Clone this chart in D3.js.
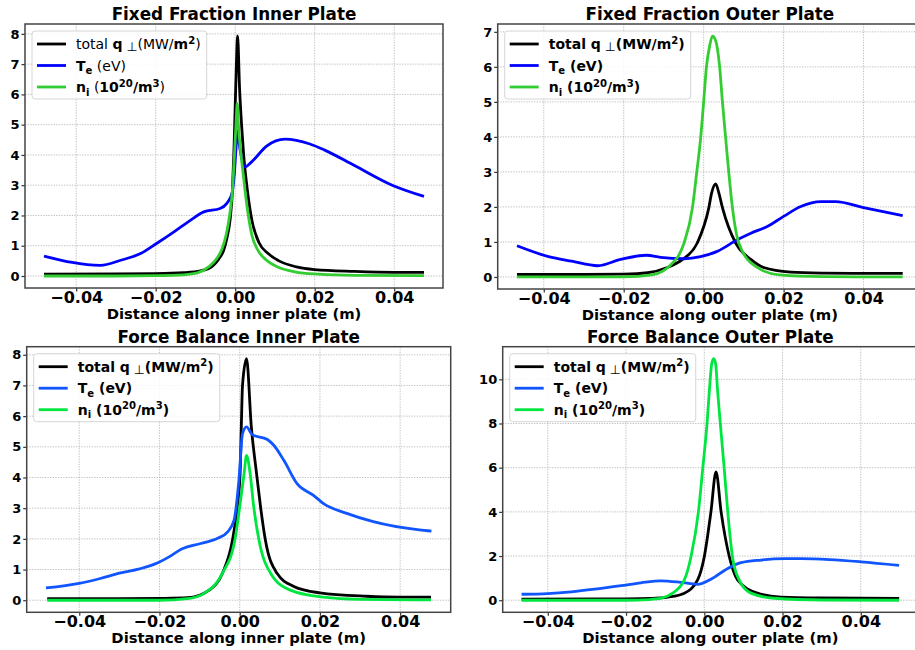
<!DOCTYPE html>
<html><head><meta charset="utf-8">
<script src="https://cdn.jsdelivr.net/npm/d3@7"></script>
<style>
body{margin:0;background:#fff}
svg{display:block}
text{font-family:"DejaVu Sans",sans-serif;white-space:pre}
</style>
</head><body>
<svg id="c" width="915" height="650"></svg>
<script>
// ---------- tick labels ----------
const xTicks = [-0.04, -0.02, 0, 0.02, 0.04];
const yTicksFFInner = [0,1,2,3,4,5,6,7,8];
const yTicksFFOuter = [0,1,2,3,4,5,6,7];
const yTicksFBInner = [0,1,2,3,4,5,6,7,8];
const yTicksFBOuter = [0,2,4,6,8,10];

// ---------- Fixed Fraction Inner Plate ----------
const ffInnerQ = [[-0.0481,0.06],[-0.03,0.07],[-0.02,0.08],[-0.013,0.11],[-0.0087,0.17],[-0.0058,0.32],[-0.0042,0.55],[-0.0029,0.85],[-0.002,1.3],[-0.00125,1.9],[-0.0007,2.8],[-0.0003,4.2],[0.0,5.6],[0.0003,7.0],[0.0006,7.93],[0.0011,6.2],[0.0016,5.0],[0.0021,4.05],[0.003,2.9],[0.0042,1.84],[0.006,1.1],[0.0083,0.74],[0.011,0.5],[0.0154,0.3],[0.02,0.21],[0.03,0.15],[0.04,0.12],[0.0475,0.12]];
const ffInnerTe = [[-0.0481,0.66],[-0.0339,0.35],[-0.0288,0.52],[-0.0238,0.74],[-0.0196,1.09],[-0.0154,1.46],[-0.0113,1.84],[-0.0079,2.12],[-0.0038,2.23],[-0.0021,2.4],[-0.0008,2.73],[-0.0002,3.4],[0.0002,4.2],[0.0005,4.8],[0.0012,4.2],[0.0025,3.61],[0.0042,3.78],[0.0079,4.29],[0.0125,4.52],[0.0188,4.36],[0.0225,4.16],[0.03,3.65],[0.0395,3.0],[0.0475,2.63]];
const ffInnerNi = [[-0.0481,0.0],[-0.03,0.0],[-0.02,0.01],[-0.013,0.04],[-0.0095,0.1],[-0.0067,0.3],[-0.0045,0.6],[-0.0033,0.9],[-0.0022,1.4],[-0.0013,2.1],[-0.0006,3.0],[-0.0002,4.0],[0.0002,5.0],[0.0005,5.7],[0.0008,5.0],[0.0013,4.2],[0.0019,3.5],[0.0025,2.8],[0.0033,2.0],[0.0042,1.35],[0.0055,0.9],[0.0079,0.52],[0.011,0.28],[0.015,0.14],[0.021,0.06],[0.03,0.02],[0.0475,0.01]];

// ---------- Fixed Fraction Outer Plate ----------
const ffOuterQ = [[-0.0467,0.07],[-0.03,0.07],[-0.02,0.08],[-0.014,0.12],[-0.0091,0.27],[-0.0053,0.5],[-0.0016,0.97],[0.0013,1.98],[0.002,2.4],[0.003,2.66],[0.0038,2.4],[0.0047,1.98],[0.008,0.97],[0.0118,0.5],[0.015,0.27],[0.0218,0.14],[0.03,0.11],[0.04,0.1],[0.0498,0.1]];
const ffOuterTe = [[-0.0467,0.89],[-0.0388,0.58],[-0.033,0.45],[-0.0265,0.32],[-0.0208,0.5],[-0.0143,0.62],[-0.0108,0.56],[-0.0049,0.52],[-0.00075,0.58],[0.0034,0.73],[0.0084,1.06],[0.0118,1.25],[0.0159,1.44],[0.02,1.73],[0.0243,2.01],[0.0293,2.15],[0.033,2.15],[0.04,1.98],[0.0498,1.75]];
const ffOuterNi = [[-0.0467,0.0],[-0.02,0.0],[-0.013,0.06],[-0.0087,0.3],[-0.0049,0.97],[-0.0028,1.98],[-0.00175,2.97],[-0.00075,3.97],[0.0,5.0],[0.0007,6.0],[0.0015,6.6],[0.0022,6.88],[0.003,6.75],[0.004,6.0],[0.0047,5.0],[0.0055,3.97],[0.0063,2.97],[0.0072,1.98],[0.0088,0.97],[0.013,0.3],[0.019,0.06],[0.03,0.01],[0.0498,0.0]];

// ---------- Force Balance Inner Plate ----------
const fbInnerQ = [[-0.048,0.05],[-0.03,0.05],[-0.02,0.06],[-0.013,0.08],[-0.0076,0.33],[-0.0043,0.88],[-0.0018,1.96],[-0.0006,3.04],[0.0001,4.13],[0.0004,5.65],[0.0007,7.0],[0.0017,7.87],[0.0029,5.65],[0.0042,4.13],[0.0052,3.04],[0.0064,1.96],[0.0093,0.88],[0.0135,0.45],[0.02,0.24],[0.0316,0.13],[0.04,0.1],[0.0477,0.1]];
const fbInnerTe = [[-0.0483,0.4],[-0.04,0.55],[-0.035,0.7],[-0.03,0.88],[-0.025,1.02],[-0.0204,1.22],[-0.0175,1.42],[-0.0146,1.66],[-0.0097,1.85],[-0.0055,2.02],[-0.003,2.23],[-0.0014,2.61],[-0.0002,3.91],[0.0007,5.43],[0.0017,5.65],[0.0031,5.4],[0.0069,5.24],[0.0085,5.05],[0.011,4.56],[0.0143,3.8],[0.0184,3.42],[0.0209,3.15],[0.0267,2.83],[0.0333,2.56],[0.0448,2.29],[0.0478,2.25]];
const fbInnerNi = [[-0.048,0.0],[-0.02,0.0],[-0.013,0.05],[-0.0092,0.2],[-0.0043,0.88],[-0.0012,1.96],[0.0,3.04],[0.0011,4.13],[0.0017,4.72],[0.0026,4.13],[0.0035,3.04],[0.0048,1.96],[0.0077,0.88],[0.0126,0.33],[0.0209,0.1],[0.03,0.03],[0.0477,0.01]];

// ---------- Force Balance Outer Plate ----------
const fbOuterQ = [[-0.0467,0.05],[-0.02,0.06],[-0.0135,0.08],[-0.0093,0.14],[-0.0051,0.32],[-0.0017,0.92],[0.0,1.97],[0.0017,4.0],[0.003,5.81],[0.0043,4.0],[0.0064,1.97],[0.0085,0.92],[0.0136,0.32],[0.0196,0.14],[0.03,0.1],[0.0498,0.08]];
const fbOuterTe = [[-0.0467,0.27],[-0.04,0.3],[-0.034,0.38],[-0.028,0.5],[-0.0213,0.66],[-0.0162,0.79],[-0.0111,0.88],[-0.006,0.81],[-0.0017,0.72],[0.0017,0.95],[0.006,1.44],[0.0094,1.7],[0.0145,1.82],[0.0204,1.88],[0.0247,1.88],[0.032,1.84],[0.04,1.74],[0.0498,1.58]];
const fbOuterNi = [[-0.0467,0.0],[-0.02,0.0],[-0.014,0.03],[-0.011,0.09],[-0.0081,0.32],[-0.0051,0.92],[-0.0034,1.97],[-0.0015,4.0],[-0.0004,5.96],[0.0007,7.99],[0.0013,9.49],[0.0019,10.7],[0.0024,10.93],[0.0029,10.7],[0.0034,9.49],[0.0041,7.99],[0.0051,5.96],[0.006,4.0],[0.0072,1.97],[0.0089,0.92],[0.0119,0.32],[0.0179,0.09],[0.03,0.01],[0.0498,0.0]];

// ---------- legend labels ----------
const labelsFF = [
  [{t:"total "},{t:"q",b:1},{t:" \u22A5",s:"perp"},{t:"(MW/"},{t:"m",b:1},{t:"2",b:1,s:"sup"},{t:")"}],
  [{t:"T",b:1},{t:"e",b:1,s:"sub"},{t:" (eV)"}],
  [{t:"n",b:1},{t:"i",b:1,s:"sub"},{t:" ("},{t:"10",b:1},{t:"20",b:1,s:"sup"},{t:"/m",b:1},{t:"3",b:1,s:"sup"},{t:")"}]
];
const labelsBold = [
  [{t:"total ",b:1},{t:"q",b:1},{t:" \u22A5",s:"perp"},{t:"(MW/",b:1},{t:"m",b:1},{t:"2",b:1,s:"sup"},{t:")",b:1}],
  [{t:"T",b:1},{t:"e",b:1,s:"sub"},{t:" (eV)",b:1}],
  [{t:"n",b:1},{t:"i",b:1,s:"sub"},{t:" (",b:1},{t:"10",b:1},{t:"20",b:1,s:"sup"},{t:"/m",b:1},{t:"3",b:1,s:"sup"},{t:")",b:1}]
];

const panels = [
  {title:"Fixed Fraction Inner Plate", xlabel:"Distance along inner plate (m)",
   series:[ffInnerQ, ffInnerTe, ffInnerNi], colors:["#000000","#0000ff","#33cc33"], yTicks:yTicksFFInner,
   labels:labelsFF, rect:{x0:25, y0:24, x1:443, y1:288}},
  {title:"Fixed Fraction Outer Plate", xlabel:"Distance along outer plate (m)",
   series:[ffOuterQ, ffOuterTe, ffOuterNi], colors:["#000000","#0000ff","#33cc33"], yTicks:yTicksFFOuter,
   labels:labelsBold, rect:{x0:497.7, y0:24, x1:922, y1:289}},
  {title:"Force Balance Inner Plate", xlabel:"Distance along inner plate (m)",
   series:[fbInnerQ, fbInnerTe, fbInnerNi], colors:["#000000","#1155ff","#00e640"], yTicks:yTicksFBInner,
   labels:labelsBold, rect:{x0:26.7, y0:346.7, x1:450.7, y1:612.3}},
  {title:"Force Balance Outer Plate", xlabel:"Distance along outer plate (m)",
   series:[fbOuterQ, fbOuterTe, fbOuterNi], colors:["#000000","#1155ff","#00e640"], yTicks:yTicksFBOuter,
   labels:labelsBold, rect:{x0:502.7, y0:346.7, x1:918, y1:612.3}}
];

const svg = d3.select("#c");
const fmt = d => (d < 0 ? "\u2212" : "") + Math.abs(d).toFixed(2);

function rich(textSel, segs, fs){
  let cur = 0;
  segs.forEach(s => {
    const off = s.s === "sub" ? fs*0.25 : s.s === "sup" ? -fs*0.38 : s.s === "perp" ? fs*0.15 : 0;
    const size = s.s === "perp" ? fs*0.9 : s.s ? fs*0.72 : fs;
    textSel.append("tspan")
      .attr("dy", off - cur)
      .attr("font-size", size)
      .attr("font-weight", s.b ? "bold" : "normal")
      .text(s.t);
    cur = off;
  });
}

panels.forEach(p => {
  const r = p.rect;
  const all = p.series.flat();
  const xe = d3.extent(all, d => d[0]), ye = d3.extent(all, d => d[1]);
  const xp = (xe[1]-xe[0])*0.05, yp = (ye[1]-ye[0])*0.05;
  const x = d3.scaleLinear().domain([xe[0]-xp, xe[1]+xp]).range([r.x0, r.x1]);
  const y = d3.scaleLinear().domain([ye[0]-yp, ye[1]+yp]).range([r.y1, r.y0]);
  const g = svg.append("g");

  // grid
  g.append("g").selectAll("line").data(xTicks).join("line")
    .attr("x1", d => x(d)).attr("x2", d => x(d)).attr("y1", r.y0).attr("y2", r.y1)
    .attr("stroke", "#b0b0b0").attr("stroke-width", 0.8).attr("stroke-dasharray", "1.3,1.3");
  g.append("g").selectAll("line").data(p.yTicks).join("line")
    .attr("y1", d => y(d)).attr("y2", d => y(d)).attr("x1", r.x0).attr("x2", r.x1)
    .attr("stroke", "#b0b0b0").attr("stroke-width", 0.8).attr("stroke-dasharray", "1.3,1.3");

  // lines
  const line = d3.line().x(d => x(d[0])).y(d => y(d[1])).curve(d3.curveMonotoneX);
  p.series.forEach((s, i) => {
    g.append("path").datum(s).attr("d", line).attr("fill", "none")
      .attr("stroke", p.colors[i]).attr("stroke-width", 2.8)
      .attr("stroke-linejoin", "round").attr("stroke-linecap", "butt");
  });

  // axes
  const xa = d3.axisBottom(x).tickValues(xTicks).tickFormat(fmt).tickSize(3.5).tickPadding(0);
  const ya = d3.axisLeft(y).tickValues(p.yTicks).tickFormat(d3.format("d")).tickSize(3.5).tickPadding(2);
  const gx = g.append("g").attr("transform", `translate(0,${r.y1})`).call(xa);
  const gy = g.append("g").attr("transform", `translate(${r.x0},0)`).call(ya);
  [gx, gy].forEach(a => {
    a.select(".domain").remove();
    a.selectAll("line").attr("stroke", "#333").attr("stroke-width", 1.2);
    a.selectAll("text").attr("font-family", "DejaVu Sans").attr("font-weight", "bold").attr("fill", "#000");
  });
  gx.selectAll("text").attr("font-size", 16).attr("y", 14.5).attr("dy", 0);
  gy.selectAll("text").attr("font-size", 13);

  // spines
  g.append("rect").attr("x", r.x0).attr("y", r.y0).attr("width", r.x1 - r.x0).attr("height", r.y1 - r.y0)
    .attr("fill", "none").attr("stroke", "#444").attr("stroke-width", 1.5);

  // title & xlabel
  const cx = (r.x0 + r.x1) / 2;
  g.append("text").attr("x", cx).attr("y", r.y0 - 4).attr("text-anchor", "middle")
    .attr("font-size", 16.8).attr("font-weight", "bold").text(p.title);
  g.append("text").attr("x", cx).attr("y", r.y1 + 31).attr("text-anchor", "middle")
    .attr("font-size", 14.8).attr("font-weight", "bold").text(p.xlabel);

  // legend
  const lg = g.append("g").attr("transform", `translate(${r.x0 + 7},${r.y0 + 7})`);
  const box = lg.append("rect").attr("rx", 3).attr("fill", "#fff").attr("fill-opacity", 0.85)
    .attr("stroke", "#d6d6d6").attr("stroke-width", 1);
  let maxW = 0;
  p.labels.forEach((lab, i) => {
    const cy = 13 + i * 21.5;
    lg.append("line").attr("x1", 5).attr("x2", 34).attr("y1", cy).attr("y2", cy)
      .attr("stroke", p.colors[i]).attr("stroke-width", 2.8);
    const t = lg.append("text").attr("x", 44).attr("y", cy + 5);
    rich(t, lab, 14);
    maxW = Math.max(maxW, t.node().getComputedTextLength());
  });
  box.attr("width", 44 + maxW + 6).attr("height", 68);
});
</script>
</body></html>
